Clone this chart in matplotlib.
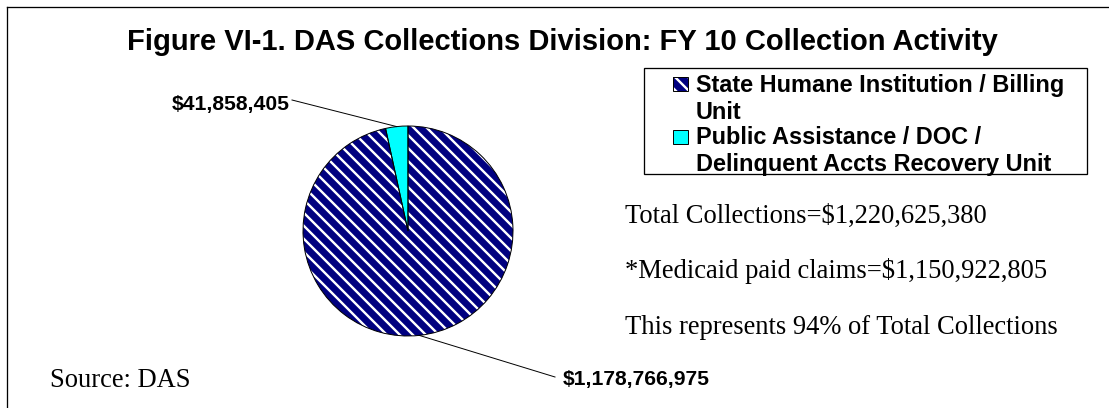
import numpy as np
import matplotlib
matplotlib.use("Agg")
import matplotlib.pyplot as plt
from matplotlib.patches import Rectangle

# ---------------- data ----------------
title = "Figure VI-1. DAS Collections Division: FY 10 Collection Activity"
categories = ["State Humane Institution / Billing Unit",
              "Public Assistance / DOC / Delinquent Accts Recovery Unit"]
legend_lines = [["State Humane Institution / Billing", "Unit"],
                ["Public Assistance / DOC /", "Delinquent Accts Recovery Unit"]]
values = [1178766975, 41858405]
colors = ["#000080", "#00FFFF"]
notes = ["Total Collections=$1,220,625,380",
         "*Medicaid paid claims=$1,150,922,805",
         "This represents 94% of Total Collections"]
source = "Source: DAS"

# ---------------- figure ----------------
DPI = 78
W, H = 1109, 408
plt.rcParams["hatch.linewidth"] = 2.2
fig = plt.figure(figsize=(W / DPI, H / DPI), dpi=DPI)
ax = fig.add_axes([0, 0, 1, 1])


def Y(y):
    return H - y


SANS = "Liberation Sans"
SERIF = "Liberation Serif"
HATCH = "\\\\"

cx, cy, R = 408, Y(231), 105
wedges, _ = ax.pie(values, startangle=90, counterclock=False, center=(cx, cy),
                   radius=R, colors=colors,
                   wedgeprops=dict(edgecolor="white", linewidth=0))
wedges[0].set_hatch(HATCH)
ax.pie(values, startangle=90, counterclock=False, center=(cx, cy), radius=R,
       wedgeprops=dict(fill=False, edgecolor="black", linewidth=0.9))

ax.set_xlim(0, W)
ax.set_ylim(0, H)
ax.set_aspect("auto")
ax.axis("off")


def edge_pt(w):
    a = np.deg2rad((w.theta1 + w.theta2) / 2)
    return cx + R * np.cos(a), cy + R * np.sin(a)


fig.canvas.draw()
rend = fig.canvas.get_renderer()


def fit(t, wpx):
    w = t.get_window_extent(rend).width
    t.set_fontsize(t.get_fontsize() * wpx / w)
    return t.get_fontsize()


# border (top and left visible, rest cut off)
ax.plot([7, W + 10], [Y(7), Y(7)], color="black", lw=1.2, clip_on=False)
ax.plot([7, 7], [Y(7), -10], color="black", lw=1.2, clip_on=False)

# title
t = ax.text(562, Y(50), title, ha="center", va="baseline", family=SANS,
            fontweight="bold", fontsize=20)
fit(t, 869)

# data labels
lab_small = ax.text(290, Y(110), f"${values[1]:,}", ha="right", va="baseline",
                    family=SANS, fontweight="bold", fontsize=16)
fs_lab = fit(lab_small, 118)
ex, ey = edge_pt(wedges[1])
ax.plot([292, ex], [Y(100), ey], color="black", lw=0.9)

lab_big = ax.text(563, Y(385), f"${values[0]:,}", ha="left", va="baseline",
                  family=SANS, fontweight="bold", fontsize=fs_lab)
ex, ey = edge_pt(wedges[0])
ax.plot([ex, 555], [ey, Y(377)], color="black", lw=0.9)

# legend
ax.add_patch(Rectangle((644, Y(174)), 1087 - 644, 174 - 68, fill=False,
                       edgecolor="black", lw=1.2))
m1 = Rectangle((673, Y(91)), 15, 14, facecolor=colors[0], edgecolor="white",
               lw=0, hatch=HATCH)
ax.add_patch(m1)
ax.add_patch(Rectangle((673, Y(91)), 15, 14, fill=False, edgecolor="black", lw=0.9))
ax.add_patch(Rectangle((673, Y(144)), 15, 14, facecolor=colors[1],
                       edgecolor="black", lw=0.9))
baselines = [[92, 119], [144, 171]]
lt = ax.text(696, Y(92), legend_lines[0][0], ha="left", va="baseline",
             family=SANS, fontweight="bold", fontsize=14)
fs_leg = fit(lt, 367)
for i, lines in enumerate(legend_lines):
    for j, line in enumerate(lines):
        if i == 0 and j == 0:
            continue
        ax.text(696, Y(baselines[i][j]), line, ha="left", va="baseline",
                family=SANS, fontweight="bold", fontsize=fs_leg)

# notes
nb = [223, 278, 334]
n0 = ax.text(625, Y(nb[0]), notes[0], ha="left", va="baseline", family=SERIF,
             fontsize=20)
fs_note = fit(n0, 363)
for s, b in zip(notes[1:], nb[1:]):
    ax.text(625, Y(b), s, ha="left", va="baseline", family=SERIF, fontsize=fs_note)

# source
st = ax.text(50, Y(387), source, ha="left", va="baseline", family=SERIF,
             fontsize=fs_note)

fig.savefig("out.png", dpi=DPI)
